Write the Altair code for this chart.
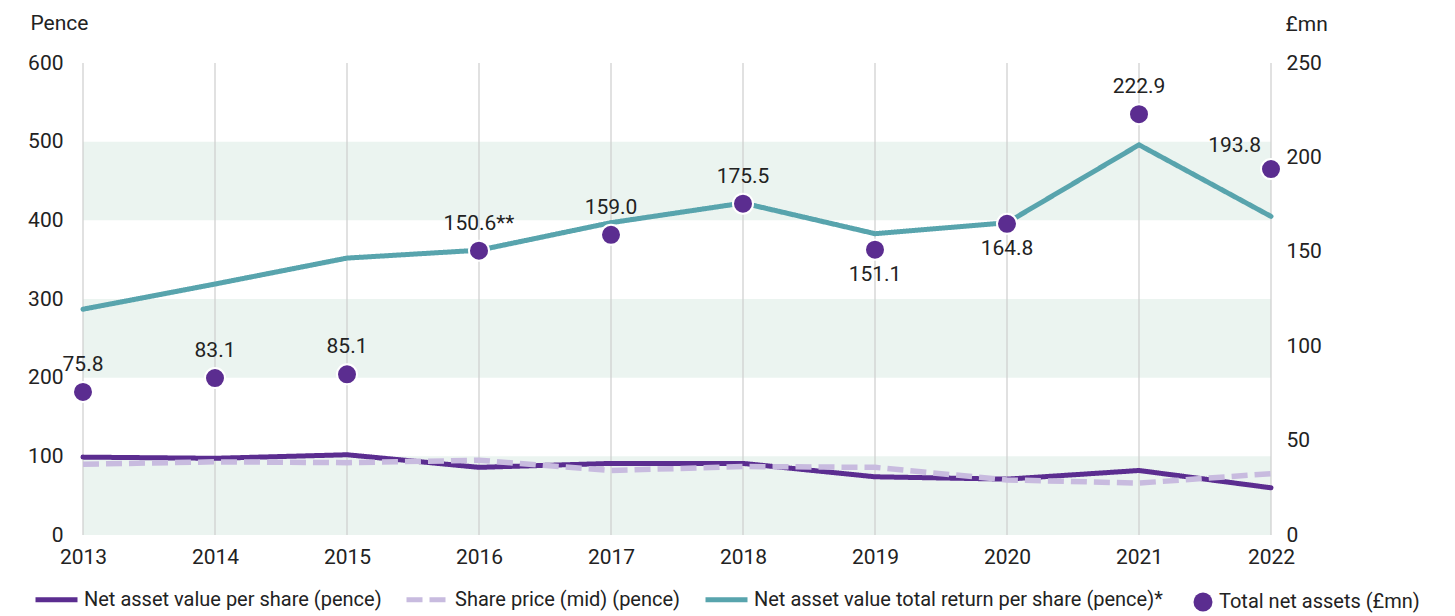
import altair as alt
import pandas as pd

years = [2013, 2014, 2015, 2016, 2017, 2018, 2019, 2020, 2021, 2022]
nav_per_share = [99, 97.5, 102, 86, 91, 91, 74, 71, 82, 60]
share_price = [90, 93, 92, 95, 82, 87, 86, 70, 66, 78]
nav_total_return = [287, 319, 352, 362, 397, 422, 383, 397, 496, 405]
total_net_assets = [75.8, 83.1, 85.1, 150.6, 159.0, 175.5, 151.1, 164.8, 222.9, 193.8]
tna_labels = ["75.8", "83.1", "85.1", "150.6**", "159.0", "175.5", "151.1", "164.8", "222.9", "193.8"]
label_pos = ["above", "above", "above", "above", "above", "above", "below", "below", "above", "left"]
band_lo = [0, 200, 400]
band_hi = [100, 300, 500]

S_NAV = "Net asset value per share (pence)"
S_SP = "Share price (mid) (pence)"
S_TR = "Net asset value total return per share (pence)*"
S_TNA = "Total net assets (£mn)"

PURPLE = "#5B2D90"
LAVENDER = "#C8BBDF"
TEAL = "#58A4AD"
BAND = "#EBF4F0"
GRID = "#CDCDCD"
TXT = "#222222"
FONT = "Roboto"

rows = []
for name, vals in [(S_NAV, nav_per_share), (S_SP, share_price), (S_TR, nav_total_return)]:
    for y, v in zip(years, vals):
        rows.append({"year": y, "value": v, "series": name})
lines_df = pd.DataFrame(rows)

tna_df = pd.DataFrame({"year": years, "tna": total_net_assets, "label": tna_labels,
                       "pos": label_pos, "series2": S_TNA})
bands_df = pd.DataFrame({"lo": band_lo, "hi": band_hi})
years_df = pd.DataFrame({"year": years})

x_enc = alt.X("year:O", scale=alt.Scale(type="point", padding=0),
              axis=alt.Axis(title=None, ticks=False, domain=False, grid=False,
                            labelAngle=0, labelFontSize=21, labelPadding=11,
                            labelColor=TXT, labelFont=FONT))

left_axis = alt.Axis(values=[0, 100, 200, 300, 400, 500, 600], ticks=False, domain=False,
                     grid=False, labelFontSize=21, labelPadding=20, labelColor=TXT,
                     labelFont=FONT, title="Pence", titleAngle=0, titleAlign="left",
                     titleBaseline="middle", titleX=-53, titleY=-40,
                     titleFontSize=21, titleFontWeight="normal", titleColor=TXT,
                     titleFont=FONT)
left_scale = alt.Scale(domain=[0, 600], nice=False)

right_axis = alt.Axis(orient="right", values=[0, 50, 100, 150, 200, 250], ticks=False,
                      domain=False, grid=False, labelFontSize=21, labelPadding=15,
                      labelColor=TXT, labelFont=FONT, title="£mn", titleAngle=0,
                      titleAlign="left", titleBaseline="middle", titleX=14, titleY=-39,
                      titleFontSize=21, titleFontWeight="normal", titleColor=TXT,
                      titleFont=FONT)
right_scale = alt.Scale(domain=[0, 250], nice=False)

bands = alt.Chart(bands_df).mark_rect(color=BAND).encode(
    y=alt.Y("lo:Q", scale=left_scale, axis=left_axis),
    y2="hi:Q",
)

grid = alt.Chart(years_df).mark_rule(color=GRID, strokeWidth=1.2).encode(x=x_enc)

line_legend = alt.Legend(title=None, orient="none", direction="horizontal",
                         legendX=-50, legendY=513, symbolType="stroke",
                         symbolSize=1764, symbolStrokeWidth=5,
                         labelFontSize=20, labelFont=FONT, labelColor=TXT,
                         labelOffset=4, columnPadding=14, labelLimit=600)

color_enc = alt.Color("series:N",
                      scale=alt.Scale(domain=[S_NAV, S_SP, S_TR], range=[PURPLE, LAVENDER, TEAL]),
                      legend=line_legend)
dash_enc = alt.StrokeDash("series:N",
                          scale=alt.Scale(domain=[S_NAV, S_SP, S_TR],
                                          range=[[1, 0], [16, 7], [1, 0]]),
                          legend=line_legend)

def line_layer(name, width, cap):
    return alt.Chart(lines_df).transform_filter(alt.datum.series == name).mark_line(
        strokeWidth=width, strokeCap=cap, strokeJoin="round").encode(
        x=x_enc,
        y=alt.Y("value:Q", scale=left_scale, axis=left_axis),
        color=color_enc,
        strokeDash=dash_enc,
    )

left = alt.layer(bands, grid,
                 line_layer(S_TR, 5, "round"),
                 line_layer(S_NAV, 5, "round"),
                 line_layer(S_SP, 5.5, "butt"))

pts = alt.Chart(tna_df).mark_circle(size=400, opacity=1, stroke="white", strokeWidth=2).encode(
    x=x_enc,
    y=alt.Y("tna:Q", scale=right_scale, axis=right_axis),
    fill=alt.Fill("series2:N", scale=alt.Scale(domain=[S_TNA], range=[PURPLE]),
                  legend=alt.Legend(title=None, orient="none", direction="horizontal",
                                    legendX=1110, legendY=529, symbolType="circle",
                                    symbolSize=360, symbolStrokeWidth=0,
                                    labelFontSize=20, labelFont=FONT, labelColor=TXT,
                                    labelOffset=6, labelLimit=600)),
)

def label_layer(pos, dx, dy, align):
    return alt.Chart(tna_df).transform_filter(alt.datum.pos == pos).mark_text(
        dx=dx, dy=dy, align=align, baseline="middle", fontSize=21, font=FONT,
        color=TXT).encode(
        x=x_enc,
        y=alt.Y("tna:Q", scale=right_scale, axis=right_axis),
        text="label:N",
    )

right = alt.layer(pts,
                  label_layer("above", 0, -27, "center"),
                  label_layer("below", 0, 25, "center"),
                  label_layer("left", -10, -23, "right"))

chart = alt.layer(left, right).resolve_scale(y="independent").properties(
    width=1188, height=472,
    autosize=alt.AutoSizeParams(type="none"),
    padding={"left": 75, "top": 55, "right": 170, "bottom": 80},
).configure(font=FONT).configure_view(strokeWidth=0, stroke="transparent")

chart.save("out.html", embed_options={"renderer": "svg", "actions": False})
